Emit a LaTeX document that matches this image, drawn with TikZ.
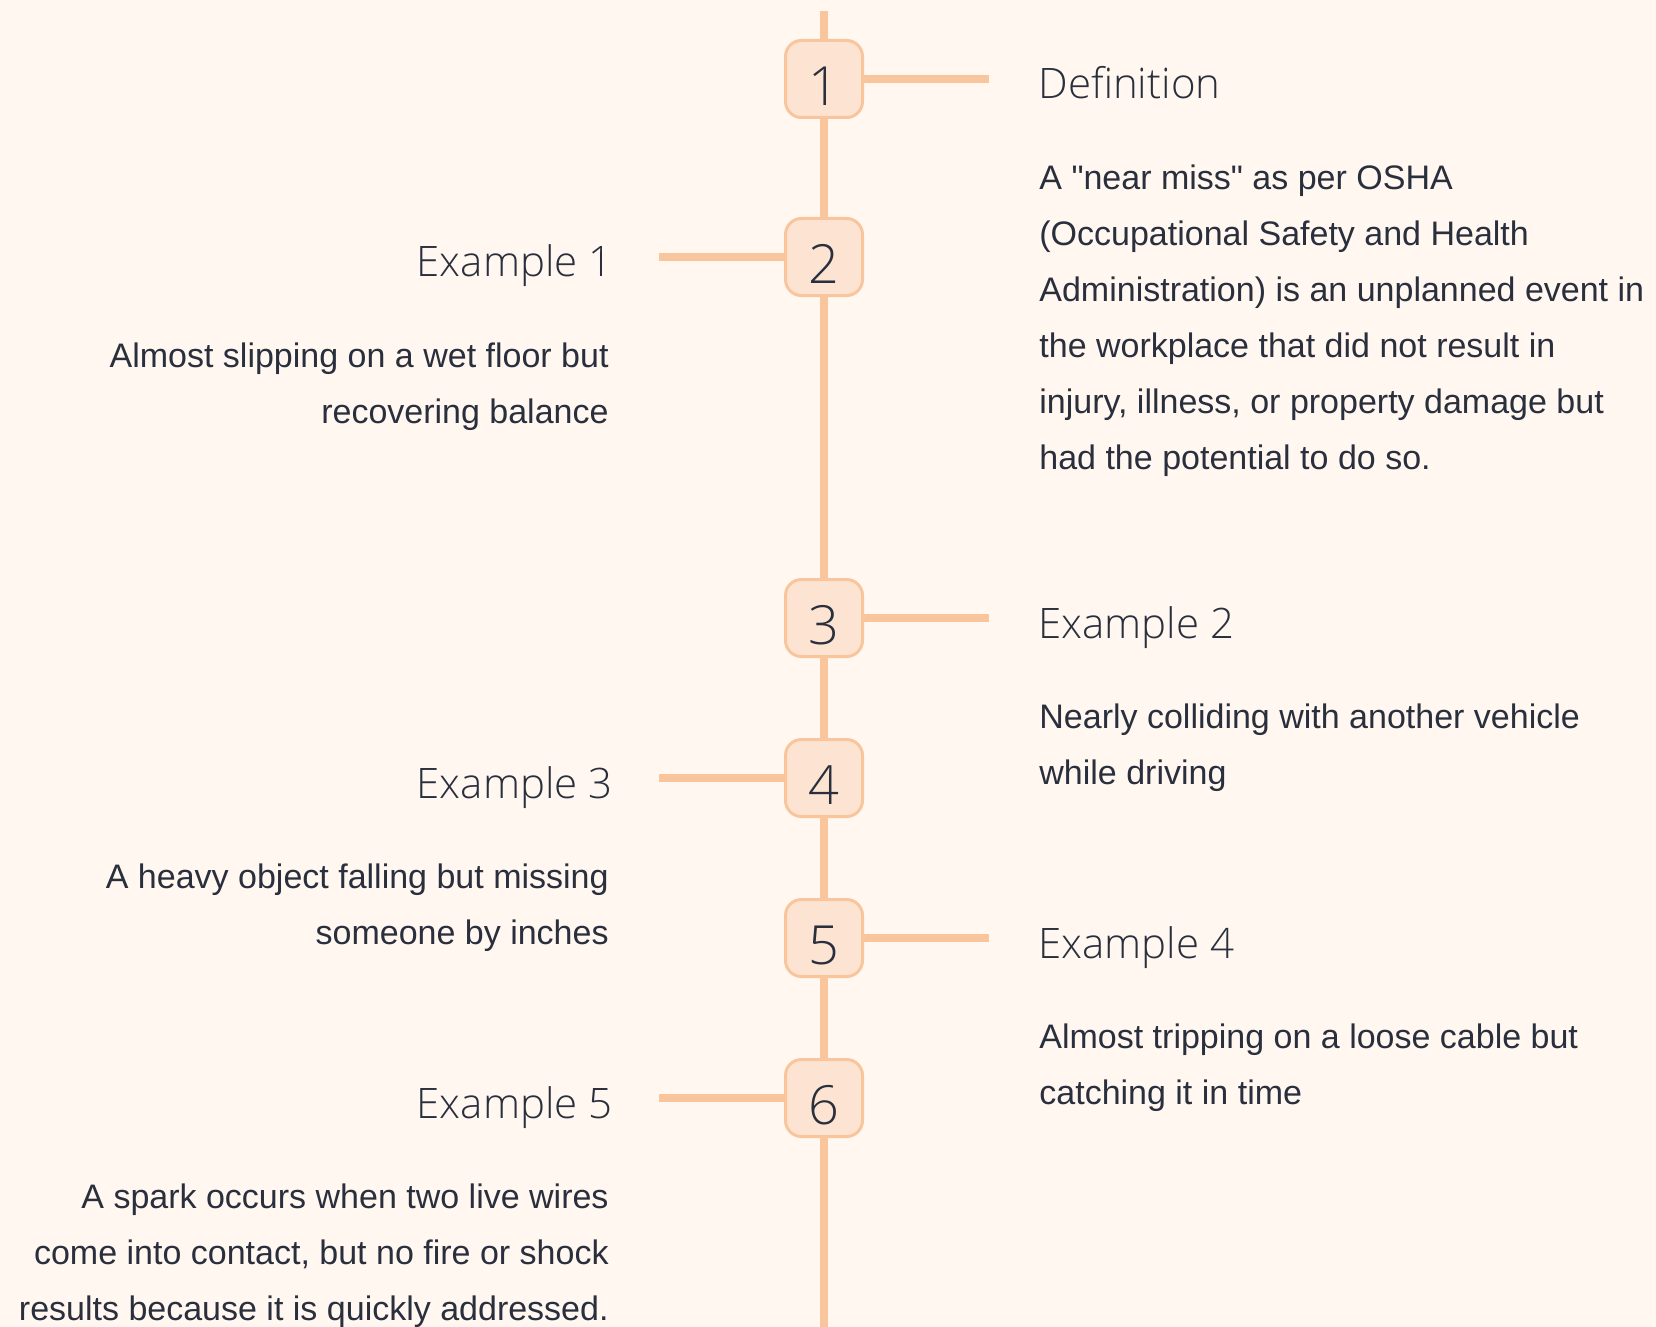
\documentclass[tikz,border=0pt]{standalone}
\usepackage{fontspec}
\setmainfont{Liberation Sans}
\newfontfamily\bodyfont{Liberation Sans}
\newfontfamily\lightfont{Open Sans Light}
\usetikzlibrary{positioning}
\definecolor{bgcream}{HTML}{FFF7F0}
\definecolor{linepeach}{HTML}{F8C59C}
\definecolor{boxpeach}{HTML}{FDE4D2}
\definecolor{inkdark}{HTML}{2A2F3D}

\begin{document}
\begin{tikzpicture}
  [x=0.5pt,y=-0.5pt,
   numbox/.style={rectangle,rounded corners=8pt,draw=linepeach,line width=1.5pt,
     fill=boxpeach,minimum size=38.5pt,inner sep=0pt,text=inkdark,
     text height=26.5pt,text depth=0pt,font=\lightfont\fontsize{27}{27}\selectfont},
   title/.style={inner sep=0pt,text=inkdark,font=\lightfont\fontsize{21}{26}\selectfont},
   body/.style={inner sep=0pt,text=inkdark,font=\bodyfont\fontsize{17}{28}\selectfont},
   spine/.style={draw=linepeach,line width=4pt}]

  \fill[bgcream] (0,0) rectangle (1656,1327);
  \useasboundingbox (0,0) rectangle (1656,1327);

  \coordinate (top) at (824,11);
  \coordinate (bot) at (824,1327);

  \node[numbox] (n1) at (824,79)   {1};
  \node[numbox] (n2) at (824,257)  {2};
  \node[numbox] (n3) at (824,618)  {3};
  \node[numbox] (n4) at (824,778)  {4};
  \node[numbox] (n5) at (824,938)  {5};
  \node[numbox] (n6) at (824,1098) {6};

  \coordinate (r1) at (989,79);
  \coordinate (l2) at (659,257);
  \coordinate (r3) at (989,618);
  \coordinate (l4) at (659,778);
  \coordinate (r5) at (989,938);
  \coordinate (l6) at (659,1098);

  % right side
  \node[title,anchor=base west] (def) at (1038,99) {Definition};
  \node[body,anchor=north west,align=left] (defbody) at (1039,164)
    {A "near miss" as per OSHA\\(Occupational Safety and Health\\
     Administration) is an unplanned event in\\the workplace that did not result in\\
     injury, illness, or property damage but\\had the potential to do so.};
  \node[title,anchor=base west] (ex2) at (1038,638) {Example 2};
  \node[body,anchor=north west,align=left] (ex2body) at (1039,703)
    {Nearly colliding with another vehicle\\while driving};
  \node[title,anchor=base west] (ex4) at (1038,958) {Example 4};
  \node[body,anchor=north west,align=left] (ex4body) at (1039,1023)
    {Almost tripping on a loose cable but\\catching it in time};

  % left side
  \node[title,anchor=base east] (ex1) at (613,277) {Example 1};
  \node[body,anchor=north east,align=right] (ex1body) at (609,342)
    {Almost slipping on a wet floor but\\recovering balance};
  \node[title,anchor=base east] (ex3) at (613,798) {Example 3};
  \node[body,anchor=north east,align=right] (ex3body) at (609,863)
    {A heavy object falling but missing\\someone by inches};
  \node[title,anchor=base east] (ex5) at (613,1118) {Example 5};
  \node[body,anchor=north east,align=right] (ex5body) at (609,1183)
    {A spark occurs when two live wires\\come into contact, but no fire or shock\\
     results because it is quickly addressed.};

  \foreach \from/\to in {top/n1,n1/n2,n2/n3,n3/n4,n4/n5,n5/n6,n6/bot,
                         n1/r1,n2/l2,n3/r3,n4/l4,n5/r5,n6/l6}
    \draw[spine] (\from) -- (\to);
\end{tikzpicture}
\end{document}
